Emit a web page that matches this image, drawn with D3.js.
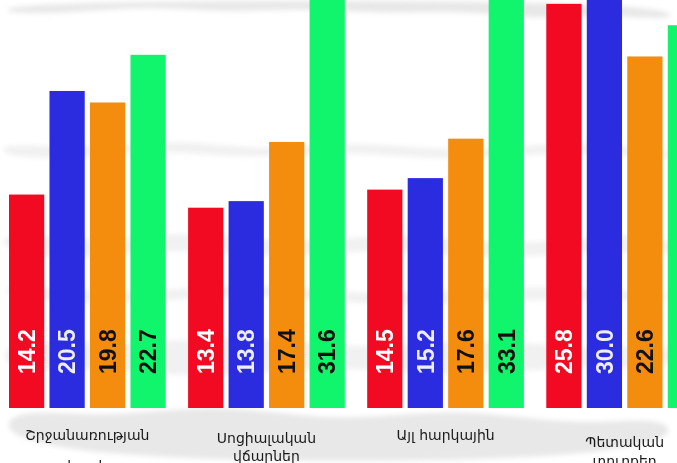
<!DOCTYPE html>
<html>
<head>
<meta charset="utf-8">
<script src="https://cdn.jsdelivr.net/npm/d3@7"></script>
<style>
  body { margin: 0; background: #fff; }
  svg { display: block; }
</style>
</head>
<body>
<div id="viz"></div>
<script>
var width = 677;
var height = 463;

// data
var groups = ["g1", "g2", "g3", "g4"];
var groupLabels = [
	["Շրջանառության", "հարկ"],
	["Սոցիալական", "վճարներ"],
	["Այլ հարկային"],
	["Պետական", "տուրքեր"]
];
var series = ["s1", "s2", "s3", "s4"];
var values = [
	[14.2, 20.5, 19.8, 22.7],
	[13.4, 13.8, 17.4, 31.6],
	[14.5, 15.2, 17.6, 33.1],
	[25.8, 30.0, 22.6, 24.5]
];

var barColors = ["#f20a22", "#2b2be0", "#f48c0e", "#10f56c"];
var textColors = ["#ffffff", "#eeeefa", "#111111", "#111111"];

var baseline = 408;
var labelTop = [440, 443, 440, 447];
var lineGap = [31, 18, 18, 19];

var x0 = d3.scaleBand()
	.domain(groups)
	.range([9, 703])
	.paddingInner(0.125);

var x1 = d3.scaleBand()
	.domain(series)
	.range([0, x0.bandwidth()])
	.paddingInner(0.13);

var y = d3.scaleLinear()
	.domain([0, 25])
	.range([428, 17]);

var svg = d3.select("#viz").append("svg")
	.attr("width", width)
	.attr("height", height);

svg.append("rect")
	.attr("width", width)
	.attr("height", height)
	.style("fill", "#ffffff");

// faint brushed background
var defs = svg.append("defs");
defs.append("filter")
	.attr("id", "blur")
	.append("feGaussianBlur")
	.attr("stdDeviation", 2.5);

var bgStrokes = [
	[[0, 0], [677, 0], [677, 22], [610, 14], [540, 20], [460, 10], [380, 14], [300, 8], [230, 13], [150, 6], [80, 12], [0, 15]],
	[[0, 142], [90, 150], [180, 138], [260, 152], [360, 140], [460, 154], [560, 140], [677, 150], [677, 160], [560, 150], [450, 162], [350, 150], [250, 160], [150, 148], [60, 160], [0, 156]],
	[[0, 230], [100, 244], [190, 228], [300, 246], [400, 230], [520, 248], [620, 232], [677, 240], [677, 258], [600, 248], [500, 262], [380, 246], [280, 260], [170, 246], [70, 262], [0, 250]],
	[[0, 282], [130, 296], [250, 280], [370, 298], [500, 284], [677, 292], [677, 302], [520, 298], [380, 308], [250, 292], [120, 306], [0, 298]],
	[[0, 335], [120, 348], [240, 332], [360, 352], [480, 336], [600, 352], [677, 340], [677, 372], [580, 364], [460, 378], [340, 364], [210, 380], [90, 366], [0, 374]],
	[[0, 404], [100, 420], [220, 402], [340, 424], [460, 406], [580, 428], [677, 412], [677, 463], [0, 463]]
];

var bgLine = d3.line().curve(d3.curveBasisClosed);

svg.append("g")
	.attr("filter", "url(#blur)")
	.selectAll("path")
	.data(bgStrokes)
	.enter().append("path")
		.attr("d", bgLine)
		.style("fill", "#e6e6e6")
		.style("opacity", function(d, i) { return i == 0 || i == 5 ? 0.9 : 0.55; });

var gGroup = svg.selectAll(".group")
	.data(groups)
	.enter().append("g")
		.attr("class", "group")
		.attr("transform", function(d) { return "translate(" + x0(d) + ",0)"; });

gGroup.selectAll("rect")
	.data(function(d, i) { return values[i]; })
	.enter().append("rect")
		.attr("x", function(d, j) { return x1(series[j]); })
		.attr("y", function(d) { return y(d); })
		.attr("width", x1.bandwidth())
		.attr("height", function(d) { return baseline - y(d); })
		.style("fill", function(d, j) { return barColors[j]; });

gGroup.selectAll(".val")
	.data(function(d, i) { return values[i]; })
	.enter().append("text")
		.attr("class", "val")
		.attr("transform", function(d, j) {
			return "translate(" + (x1(series[j]) + x1.bandwidth() / 2) + "," + (baseline - 34) + ") rotate(-90)";
		})
		.attr("dy", "0.36em")
		.style("font-family", "'Liberation Sans', Arial, sans-serif")
		.style("font-weight", "bold")
		.style("font-size", "23px")
		.style("fill", function(d, j) { return textColors[j]; })
		.text(function(d) { return d.toFixed(1); });

var labels = gGroup.append("text")
	.attr("text-anchor", "middle")
	.style("font-family", "'DejaVu Sans', sans-serif")
	.style("font-size", "14px")
	.style("fill", "#1a1a1a");

labels.selectAll("tspan")
	.data(function(d, i) {
		return groupLabels[i].map(function(t, k) { return { text: t, k: k, i: i }; });
	})
	.enter().append("tspan")
		.attr("x", x0.bandwidth() / 2)
		.attr("y", function(d) { return labelTop[d.i] + d.k * lineGap[d.i]; })
		.text(function(d) { return d.text; });
</script>
</body>
</html>
